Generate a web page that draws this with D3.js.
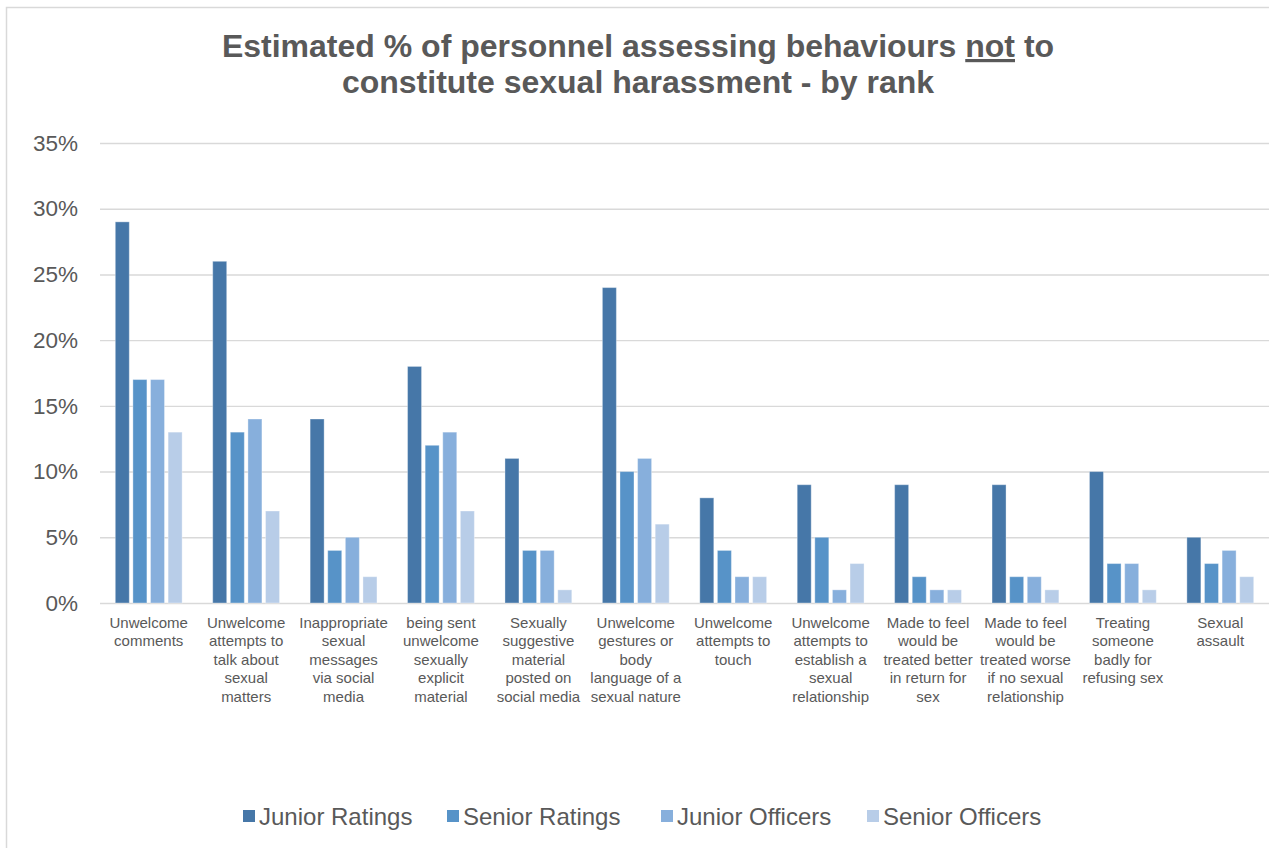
<!DOCTYPE html>
<html>
<head>
<meta charset="utf-8">
<script src="https://cdn.jsdelivr.net/npm/d3@7"></script>
<style>
  html, body { margin: 0; padding: 0; background: #fff; }
  svg { display: block; font-family: Arial, "Liberation Sans", sans-serif; }
</style>
</head>
<body>
<svg id="chart" width="1269" height="848"></svg>
<script>
// Behaviour categories, each split into the lines shown under the axis
const categories = [
  ["Unwelcome", "comments"],
  ["Unwelcome", "attempts to", "talk about", "sexual", "matters"],
  ["Inappropriate", "sexual", "messages", "via social", "media"],
  ["being sent", "unwelcome", "sexually", "explicit", "material"],
  ["Sexually", "suggestive", "material", "posted on", "social media"],
  ["Unwelcome", "gestures or", "body", "language of a", "sexual nature"],
  ["Unwelcome", "attempts to", "touch"],
  ["Unwelcome", "attempts to", "establish a", "sexual", "relationship"],
  ["Made to feel", "would be", "treated better", "in return for", "sex"],
  ["Made to feel", "would be", "treated worse", "if no sexual", "relationship"],
  ["Treating", "someone", "badly for", "refusing sex"],
  ["Sexual", "assault"]
];

const seriesNames = ["Junior Ratings", "Senior Ratings", "Junior Officers", "Senior Officers"];

// Percentages per category, one array per rank group
const juniorRatings  = [29, 26, 14, 18, 11, 24, 8, 9, 9, 9, 10, 5];
const seniorRatings  = [17, 13,  4, 12,  4, 10, 4, 5, 2, 2,  3, 3];
const juniorOfficers = [17, 14,  5, 13,  4, 11, 2, 1, 1, 2,  3, 4];
const seniorOfficers = [13,  7,  2,  7,  1,  6, 2, 3, 1, 1,  1, 2];

const yTicks = [0, 5, 10, 15, 20, 25, 30, 35];

const seriesValues = [juniorRatings, seniorRatings, juniorOfficers, seniorOfficers];
const colors = ["#4677a8", "#5793c8", "#87afdc", "#b8cde8"];
const textColor = "#595959";

const svg = d3.select("#chart");

// Outer chart frame
svg.append("rect")
  .attr("x", 6.5).attr("y", 7.5)
  .attr("width", 1269).attr("height", 848)
  .attr("fill", "#fff")
  .attr("stroke", "#d9d9d9").attr("stroke-width", 1.5);

// Title (two lines, "not" underlined)
const title = svg.append("text")
  .attr("text-anchor", "middle")
  .attr("fill", textColor)
  .attr("font-weight", "bold")
  .attr("font-size", 32);
const t1 = title.append("tspan").attr("x", 638).attr("y", 57);
t1.append("tspan").text("Estimated % of personnel assessing behaviours ");
t1.append("tspan").attr("text-decoration", "underline").text("not");
t1.append("tspan").text(" to");
title.append("tspan").attr("x", 638).attr("y", 93).text("constitute sexual harassment - by rank");

// Scales
const plotLeft = 100, plotRight = 1269, plotTop = 143, plotBottom = 603;
const y = d3.scaleLinear().domain([0, 35]).range([plotBottom, plotTop]);
const x0 = d3.scaleBand().domain(d3.range(categories.length)).range([plotLeft, plotRight]).padding(0);
const x1 = d3.scaleBand().domain(d3.range(seriesNames.length))
  .range([x0.bandwidth() * 0.157, x0.bandwidth() * 0.843])
  .paddingInner(0.205);

// Gridlines and y labels
const yAxis = d3.axisLeft(y)
  .tickValues(yTicks)
  .tickSize(-(plotRight - plotLeft))
  .tickPadding(22)
  .tickFormat(d => d + "%");
const gy = svg.append("g").attr("transform", `translate(${plotLeft},0)`).call(yAxis);
gy.select(".domain").remove();
gy.selectAll(".tick line").attr("stroke", "#d9d9d9").attr("stroke-width", 1.4);
gy.selectAll(".tick text")
  .attr("fill", textColor)
  .attr("font-size", 22.5)
  .attr("font-family", "Arial, 'Liberation Sans', sans-serif");

// Bars
const groups = svg.append("g").selectAll("g")
  .data(categories.map((c, i) => i))
  .join("g")
  .attr("transform", i => `translate(${x0(i)},0)`);

groups.selectAll("rect")
  .data(i => seriesValues.map((vals, s) => ({ s, v: vals[i] })))
  .join("rect")
  .attr("x", d => x1(d.s))
  .attr("width", x1.bandwidth())
  .attr("y", d => y(d.v))
  .attr("height", d => y(0) - y(d.v))
  .attr("fill", d => colors[d.s])
  .attr("stroke", "#ffffff")
  .attr("stroke-opacity", 0.35)
  .attr("stroke-width", 1);

// Category labels
const xAxis = d3.axisBottom(x0).tickSize(0).tickFormat("");
const gx = svg.append("g").attr("transform", `translate(0,${plotBottom})`).call(xAxis);
gx.select(".domain").remove();
gx.selectAll(".tick").each(function (i) {
  const t = d3.select(this).append("text")
    .attr("text-anchor", "middle")
    .attr("fill", textColor)
    .attr("font-size", 15);
  categories[i].forEach((line, k) => {
    t.append("tspan").attr("x", 0).attr("y", 25 + k * 18.4).text(line);
  });
});

// Legend
const legendX = [243, 447, 661, 867];
const legend = svg.append("g").selectAll("g")
  .data(seriesNames)
  .join("g")
  .attr("transform", (d, i) => `translate(${legendX[i]},816)`);
legend.append("rect")
  .attr("x", 0).attr("y", -6)
  .attr("width", 12).attr("height", 12)
  .attr("fill", (d, i) => colors[i]);
legend.append("text")
  .attr("x", 16).attr("y", 8.5)
  .attr("fill", textColor)
  .attr("font-size", 24)
  .text(d => d);
</script>
</body>
</html>
